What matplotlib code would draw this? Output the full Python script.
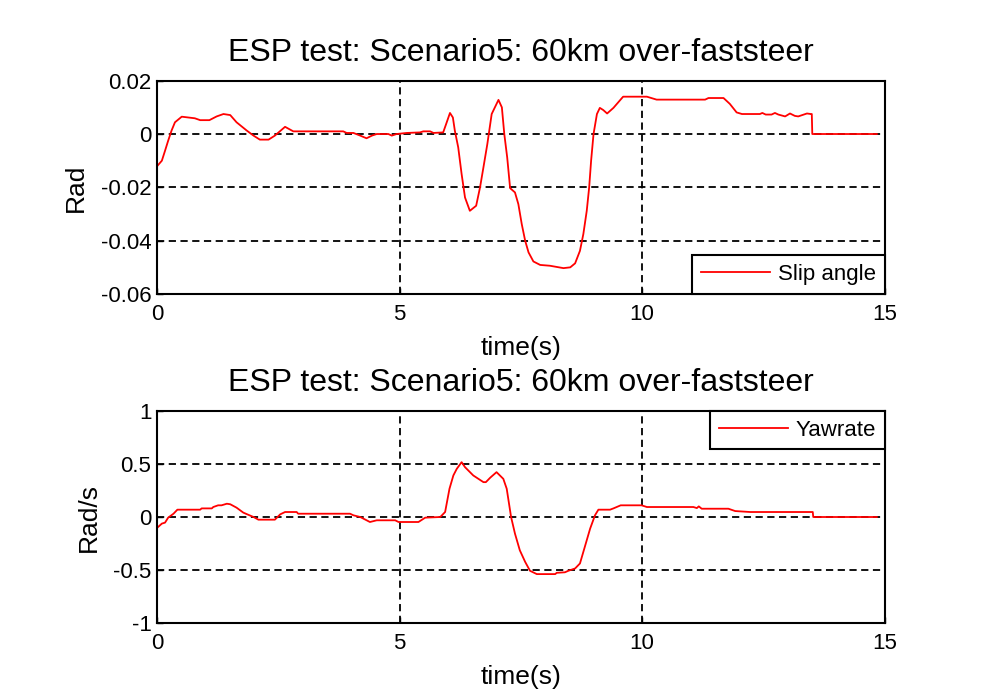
import numpy as np
import matplotlib
matplotlib.use("Agg")
import matplotlib.pyplot as plt

# ----------------------
# Data
# ----------------------
t_slip = [0.0, 0.1, 0.165, 0.23, 0.30, 0.37, 0.51, 0.78, 0.89, 1.08, 1.23, 1.37, 1.51,
          1.64, 1.85, 1.99, 2.12, 2.30, 2.43, 2.64, 2.81, 3.84, 3.91, 4.05, 4.19, 4.32,
          4.43, 4.53, 4.77, 4.84, 4.94, 5.15, 5.42, 5.49, 5.63, 5.70, 5.90, 5.96, 6.04,
          6.10, 6.14, 6.21, 6.28, 6.35, 6.45, 6.58, 6.66, 6.73, 6.81, 6.90, 7.04, 7.11,
          7.16, 7.22, 7.28, 7.38, 7.45, 7.52, 7.59, 7.66, 7.76, 7.90, 8.10, 8.38, 8.52,
          8.62, 8.72, 8.79, 8.86, 8.91, 8.95, 9.00, 9.07, 9.13, 9.20, 9.28, 9.41, 9.51,
          9.61, 10.10, 10.30, 11.30, 11.37, 11.68, 11.81, 11.95, 12.06, 12.43, 12.48,
          12.55, 12.67, 12.74, 12.81, 12.95, 13.05, 13.15, 13.22, 13.40, 13.48, 13.50,
          13.51, 14.84]
slip = [-0.0121, -0.0100, -0.0063, -0.0025, 0.0013, 0.0044, 0.0065, 0.0059, 0.0052,
        0.0052, 0.0066, 0.0075, 0.0071, 0.0044, 0.0013, -0.0006, -0.0021, -0.0021,
        -0.0006, 0.0027, 0.0010, 0.0010, 0.0004, 0.0004, -0.0006, -0.0016, -0.0006,
        0.0, 0.0, -0.0006, 0.0, 0.0004, 0.0006, 0.0010, 0.0010, 0.0004, 0.0006, 0.0037,
        0.0079, 0.0062, 0.0013, -0.0050, -0.0150, -0.0238, -0.0288, -0.0269, -0.0200,
        -0.0125, -0.0038, 0.0075, 0.0128, 0.0100, 0.0, -0.0088, -0.0203, -0.0219,
        -0.0263, -0.0338, -0.0400, -0.0444, -0.0478, -0.0491, -0.0494, -0.0503, -0.0500,
        -0.0485, -0.0438, -0.0375, -0.0288, -0.0200, -0.0100, 0.0, 0.0075, 0.0098,
        0.0090, 0.0077, 0.0098, 0.0119, 0.0140, 0.0140, 0.0129, 0.0129, 0.0135, 0.0135,
        0.0113, 0.0081, 0.0075, 0.0075, 0.0079, 0.0073, 0.0073, 0.0079, 0.0073, 0.0066,
        0.0077, 0.0068, 0.0066, 0.0077, 0.0075, 0.0075, 0.0, 0.0]

t_yaw = [0.0, 0.1, 0.165, 0.23, 0.34, 0.42, 0.89, 0.92, 1.13, 1.16, 1.26, 1.33, 1.44,
         1.51, 1.64, 1.78, 1.99, 2.09, 2.43, 2.54, 2.64, 2.88, 2.91, 3.98, 4.05, 4.19,
         4.39, 4.53, 4.91, 4.98, 5.39, 5.53, 5.84, 5.94, 6.03, 6.11, 6.18, 6.28, 6.35,
         6.52, 6.73, 6.78, 6.87, 7.00, 7.14, 7.21, 7.30, 7.38, 7.48, 7.59, 7.69, 7.83,
         8.21, 8.24, 8.41, 8.48, 8.62, 8.72, 8.82, 8.93, 9.03, 9.10, 9.34, 9.41, 9.56,
         9.99, 10.10, 11.06, 11.13, 11.17, 11.23, 11.78, 11.92, 12.23, 13.52, 13.53,
         14.84]
yaw = [-0.103, -0.062, -0.053, -0.006, 0.031, 0.069, 0.069, 0.081, 0.081, 0.094, 0.110,
       0.110, 0.125, 0.120, 0.088, 0.041, 0.0, -0.025, -0.025, 0.025, 0.047, 0.047,
       0.031, 0.031, 0.016, 0.0, -0.047, -0.031, -0.031, -0.047, -0.047, -0.006, 0.0,
       0.047, 0.266, 0.391, 0.453, 0.516, 0.469, 0.391, 0.328, 0.328, 0.370, 0.422,
       0.359, 0.266, 0.0, -0.156, -0.313, -0.422, -0.506, -0.537, -0.537, -0.525,
       -0.520, -0.506, -0.484, -0.437, -0.281, -0.109, 0.016, 0.069, 0.069, 0.081,
       0.110, 0.110, 0.094, 0.094, 0.084, 0.100, 0.078, 0.078, 0.056, 0.047, 0.047,
       0.0, 0.0]

title = "ESP test: Scenario5: 60km over-faststeer"

# ----------------------
# Style
# ----------------------
plt.rcParams['font.family'] = ['Liberation Sans', 'DejaVu Sans']
plt.rcParams['xtick.direction'] = 'in'
plt.rcParams['ytick.direction'] = 'in'

fig = plt.figure(figsize=(9.95, 6.98), dpi=100)
ax1 = fig.add_axes([0.1578, 0.5788, 0.7312, 0.3056])
ax2 = fig.add_axes([0.1578, 0.1070, 0.7312, 0.3046])


def style(ax, yticks, ylabel, legend_loc):
    ax.set_xlim(0, 15)
    ax.set_xticks([0, 5, 10, 15])
    ax.set_yticks(yticks)
    ax.set_ylim(yticks[0], yticks[-1])
    ax.grid(True, color='black', linestyle=(0, (4, 2.5)), linewidth=1.3)
    ax.tick_params(labelsize=16, length=4, width=1, pad=4)
    ax.tick_params(axis='x', pad=7)
    for s in ax.spines.values():
        s.set_linewidth(1.5)
    ax.set_title(title, fontsize=23, pad=14)
    ax.set_xlabel('time(s)', fontsize=19, labelpad=8)
    ax.set_ylabel(ylabel, fontsize=19, labelpad=9)
    leg = ax.legend(loc=legend_loc, fontsize=16, fancybox=False, framealpha=1,
                    borderaxespad=0, handlelength=3.1, borderpad=0.4,
                    handletextpad=0.35)
    leg.get_frame().set_edgecolor('black')
    leg.get_frame().set_linewidth(1.5)


ax1.plot(t_slip, slip, color='red', linewidth=1.3, label='Slip angle')
ax1.yaxis.set_major_formatter(matplotlib.ticker.FuncFormatter(
    lambda v, p: '0' if abs(v) < 1e-9 else f'{v:.2f}'))
style(ax1, [-0.06, -0.04, -0.02, 0, 0.02], 'Rad', 'lower right')

ax2.plot(t_yaw, yaw, color='red', linewidth=1.3, label='Yawrate')
ax2.yaxis.set_major_formatter(matplotlib.ticker.FuncFormatter(
    lambda v, p: f'{v:g}'))
style(ax2, [-1, -0.5, 0, 0.5, 1], 'Rad/s', 'upper right')

plt.savefig("out.png", dpi=100)
